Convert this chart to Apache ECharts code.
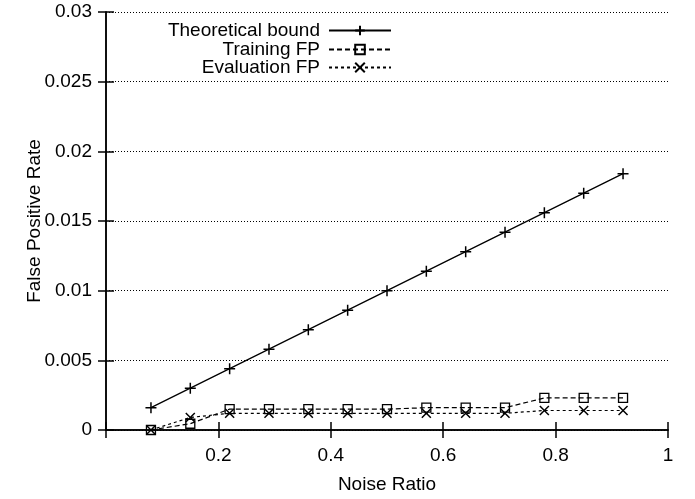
<!DOCTYPE html>
<html>
<head>
<meta charset="utf-8">
<script src="https://cdn.jsdelivr.net/npm/echarts@6/dist/echarts.min.js"></script>
<style>html,body{margin:0;padding:0;background:#fff;}#c{width:695px;height:499px;}</style>
</head>
<body>
<div id="c"></div>
<script>
const noiseRatio = [0.08, 0.15, 0.22, 0.29, 0.36, 0.43, 0.50, 0.57, 0.64, 0.71, 0.78, 0.85, 0.92];
const theoreticalBound = [0.0016, 0.0030, 0.0044, 0.0058, 0.0072, 0.0086, 0.0100, 0.0114, 0.0128, 0.0142, 0.0156, 0.0170, 0.0184];
const trainingFP = [0.0000, 0.00045, 0.0015, 0.0015, 0.0015, 0.0015, 0.0015, 0.0016, 0.0016, 0.0016, 0.0023, 0.0023, 0.0023];
const evaluationFP = [0.0000, 0.0009, 0.0012, 0.0012, 0.0012, 0.0012, 0.0012, 0.0012, 0.0012, 0.0012, 0.0014, 0.0014, 0.0014];
const seriesNames = ['Theoretical bound', 'Training FP', 'Evaluation FP'];
const xTitle = 'Noise Ratio';
const yTitle = 'False Positive Rate';

const FONT = 'Liberation Sans, Arial, Helvetica, sans-serif';
const FS = 19;
const pair = (xs, ys) => xs.map((x, i) => [x, ys[i]]);
const plusPath = 'path://M0,5 L10,5 M5,0 L5,10';
const crossPath = 'path://M0,0 L10,10 M10,0 L0,10';

const chart = echarts.init(document.getElementById('c'), null, {renderer: 'canvas'});
const legendBase = (name, top) => ({
  data: [name], right: 303, top: top, orient: 'horizontal', align: 'right',
  itemWidth: 62, itemHeight: 12, padding: 0, itemGap: 0,
  textStyle: {fontFamily: FONT, fontSize: FS, color: '#000', padding: [0, 4, 0, 0]},
  selectedMode: false
});
const axisCommon = {
  type: 'value',
  axisLine: {show: true, lineStyle: {color: '#000', width: 1.5}},
  axisTick: {show: true, inside: true, length: 8, lineStyle: {color: '#000', width: 1.5}},
  splitLine: {show: false}
};
chart.setOption({
  animation: false,
  backgroundColor: '#fff',
  grid: {left: 106, right: 27, top: 12, bottom: 67, containLabel: false},
  legend: [legendBase(seriesNames[0], 21), legendBase(seriesNames[1], 40), legendBase(seriesNames[2], 58)],
  xAxis: [
    Object.assign({}, axisCommon, {
      position: 'bottom', min: 0, max: 1, interval: 0.2,
      name: xTitle, nameLocation: 'middle', nameGap: 45, nameMoveOverlap: false,
      nameTextStyle: {fontFamily: FONT, fontSize: FS, color: '#000'},
      axisLabel: {fontFamily: FONT, fontSize: FS, color: '#000', margin: 16,
        formatter: v => (v === 0 ? '' : String(+v.toFixed(2)))}
    }),
    Object.assign({}, axisCommon, {
      position: 'top', min: 0, max: 1, interval: 0.2, axisLabel: {show: false}
    })
  ],
  yAxis: [
    Object.assign({}, axisCommon, {
      position: 'left', min: 0, max: 0.03, interval: 0.005,
      name: yTitle, nameLocation: 'middle', nameGap: 62, nameMoveOverlap: false,
      nameTextStyle: {fontFamily: FONT, fontSize: FS, color: '#000'},
      axisLabel: {fontFamily: FONT, fontSize: FS, color: '#000', margin: 14,
        formatter: v => String(+v.toFixed(3))},
      splitLine: {show: true, lineStyle: {color: '#000', width: 1, type: [1, 2]}}
    }),
    Object.assign({}, axisCommon, {
      position: 'right', min: 0, max: 0.03, interval: 0.005, axisLabel: {show: false}
    })
  ],
  series: [
    {
      name: seriesNames[0], type: 'line', data: pair(noiseRatio, theoreticalBound),
      symbol: plusPath, symbolSize: 11, showAllSymbol: true,
      lineStyle: {color: '#000', width: 1.3, type: 'solid'},
      itemStyle: {color: 'rgba(0,0,0,0)', borderColor: '#000', borderWidth: 1.5},
      z: 3
    },
    {
      name: seriesNames[1], type: 'line', data: pair(noiseRatio, trainingFP),
      symbol: 'rect', symbolSize: 9, showAllSymbol: true,
      lineStyle: {color: '#000', width: 1.2, type: [5, 3]},
      itemStyle: {color: 'rgba(0,0,0,0)', borderColor: '#000', borderWidth: 1.3},
      z: 2
    },
    {
      name: seriesNames[2], type: 'line', data: pair(noiseRatio, evaluationFP),
      symbol: crossPath, symbolSize: 9, showAllSymbol: true,
      lineStyle: {color: '#000', width: 1.2, type: [3, 3]},
      itemStyle: {color: 'rgba(0,0,0,0)', borderColor: '#000', borderWidth: 1.5},
      z: 2
    }
  ]
});
</script>
</body>
</html>
